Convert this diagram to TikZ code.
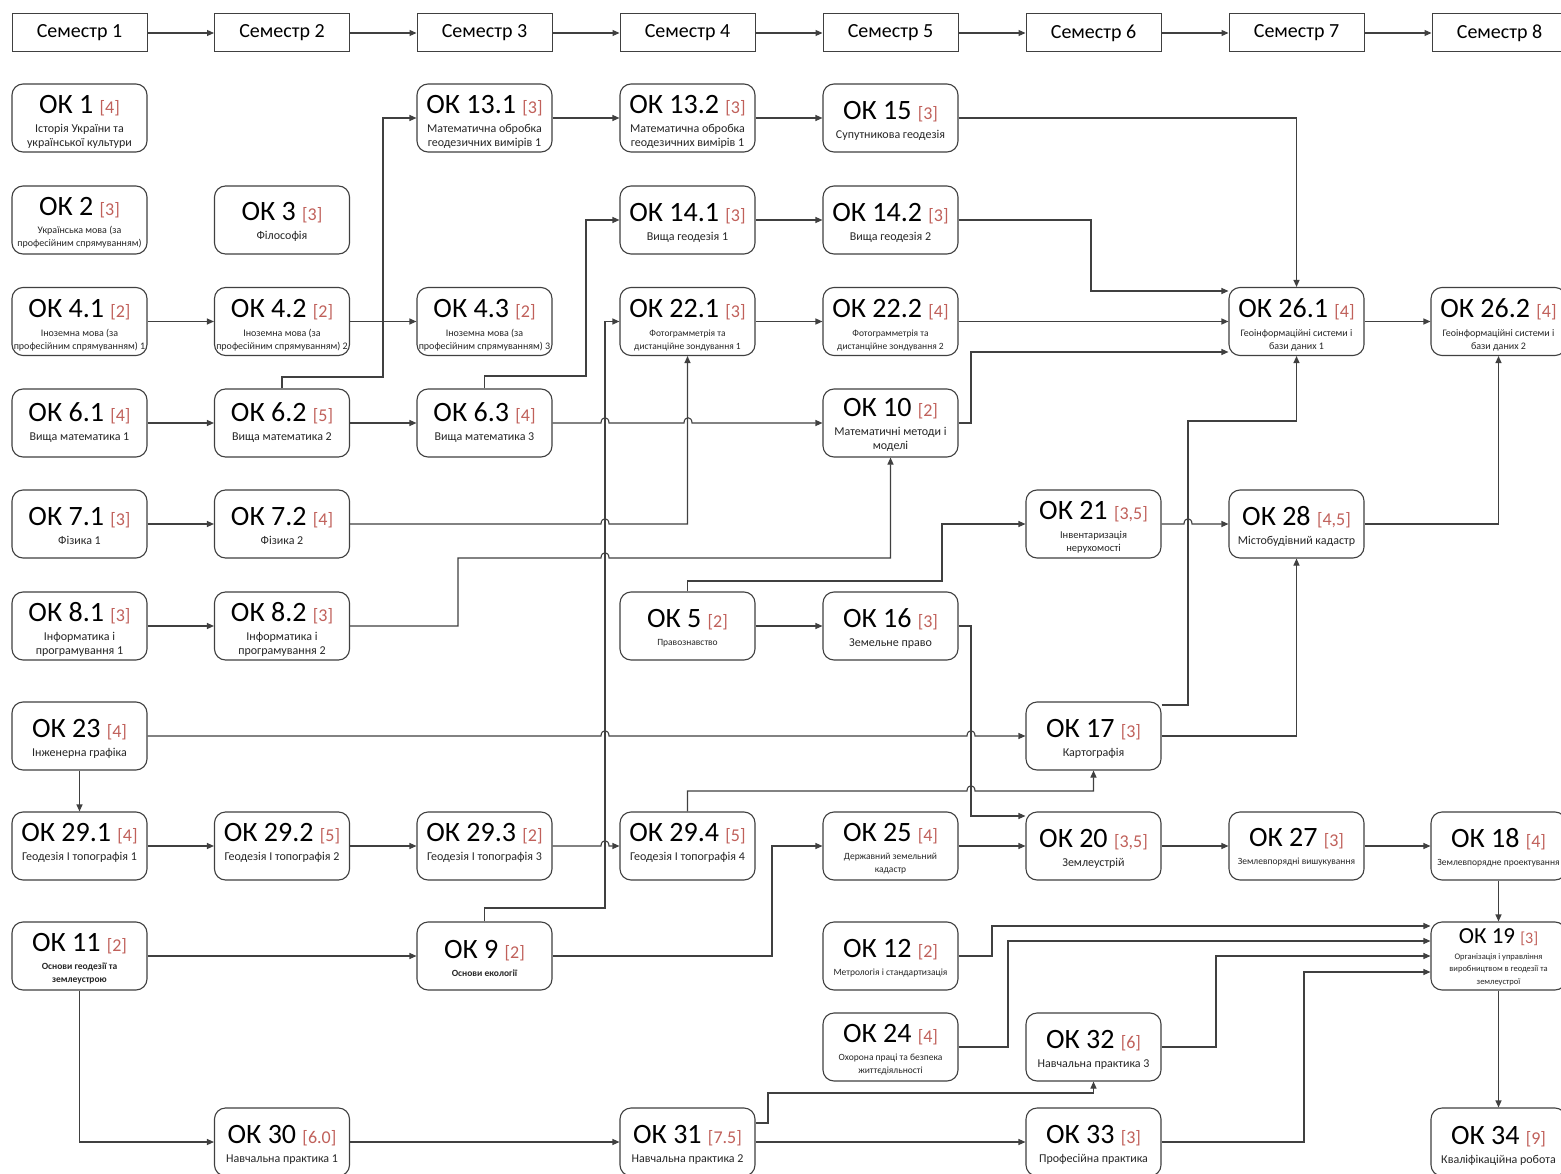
\documentclass[tikz,border=0pt]{standalone}
\usepackage{fontspec}
\setmainfont{Carlito}
\usetikzlibrary{arrows.meta}
\definecolor{cred}{RGB}{192,96,90}
\definecolor{lin}{RGB}{64,64,64}
\newcommand\crfont{\color{cred}\fontsize{18}{20}\selectfont}
\tikzset{
  box/.style={draw=black!75, line width=1.1pt, rounded corners=11pt, minimum width=135pt, minimum height=68pt, fill=white, inner sep=0pt},
  sem/.style={draw=black!75, line width=1pt, minimum width=135pt, minimum height=38pt, inner sep=0pt, font=\fontsize{20}{22}\selectfont},
  ttl/.style={anchor=base, inner sep=0pt, font=\fontsize{28}{30}\selectfont},
  sub/.style={anchor=north, inner sep=0pt, align=center, text=black!85, font=\fontsize{12}{14}\selectfont},
  small/.style={font=\fontsize{9.5}{13}\selectfont},
  smallx/.style={font=\fontsize{10}{13}\selectfont},
  smallm/.style={font=\fontsize{10.5}{13.5}\selectfont},
  smallb/.style={font=\bfseries\fontsize{9.5}{13}\selectfont},
  arr/.style={draw=lin, line width=1.1pt, -{Triangle[length=7pt,width=6pt]}},
  hop/.style 2 args={insert path={-- (#1-4,#2) .. controls (#1-4,#2-7) and (#1+4,#2-7) .. (#1+4,#2)}}
}
\newcommand\course[8][]{%
  \node[box] (#2) at (#3,#4) {};
  \node[ttl] (#2t) at ([yshift={-(#7+9)*1pt}]#2.north) {ОК #5 {\crfont[#6]}};
  \node[sub,#1] (#2s) at ([yshift={-(#7+18)*1pt}]#2.north) {\strut #8};
}
\begin{document}
\begin{tikzpicture}[x=1pt,y=-1pt]
\path[fill=white,use as bounding box] (0,0) rectangle (1561,1174);
% semesters
\node[sem] (s1) at (79.5,33) {Семестр 1};
\node[sem] (s2) at (282,33) {Семестр 2};
\node[sem] (s3) at (484.5,33) {Семестр 3};
\node[sem] (s4) at (687.5,33) {Семестр 4};
\node[sem] (s5) at (890.5,33) {Семестр 5};
\node[sem] (s6) at (1093.5,33) {Семестр 6};
\node[sem] (s7) at (1296.5,33) {Семестр 7};
\node[sem] (s8) at (1499.5,33) {Семестр 8};
\foreach \i/\j in {1/2,2/3,3/4,4/5,5/6,6/7,7/8} \draw[arr] (s\i.east) -- (s\j.west);
% column 1
\course{o1}{79.5}{118}{1}{4}{21}{Історія України та\\української культури}
\course[smallx]{o2}{79.5}{220}{2}{3}{21}{Українська мова (за\\професійним спрямуванням)}
\course[smallx]{o41}{79.5}{321.5}{4.1}{2}{22}{Іноземна мова (за\\професійним спрямуванням) 1}
\course{o61}{79.5}{423}{6.1}{4}{24}{Вища математика 1}
\course{o71}{79.5}{524}{7.1}{3}{27}{Фізика 1}
\course{o81}{79.5}{626}{8.1}{3}{21}{Інформатика і\\програмування 1}
\course{o23}{79.5}{736}{23}{4}{27}{Інженерна графіка}
\course{o291}{79.5}{846}{29.1}{4}{21}{Геодезія І топографія 1}
\course[smallb]{o11}{79.5}{956}{11}{2}{21}{Основи геодезії та\\землеустрою}
% column 2
\course{o3}{282}{220}{3}{3}{26}{Філософія}
\course[smallx]{o42}{282}{321.5}{4.2}{2}{22}{Іноземна мова (за\\професійним спрямуванням) 2}
\course{o62}{282}{423}{6.2}{5}{24}{Вища математика 2}
\course{o72}{282}{524}{7.2}{4}{27}{Фізика 2}
\course{o82}{282}{626}{8.2}{3}{21}{Інформатика і\\програмування 2}
\course{o292}{282}{846}{29.2}{5}{21}{Геодезія І топографія 2}
\course{o30}{282}{1142}{30}{6.0}{27}{Навчальна практика 1}
% column 3
\course{o131}{484.5}{118}{13.1}{3}{21}{Математична обробка\\геодезичних вимірів 1}
\course[smallx]{o43}{484.5}{321.5}{4.3}{2}{22}{Іноземна мова (за\\професійним спрямуванням) 3}
\course{o63}{484.5}{423}{6.3}{4}{24}{Вища математика 3}
\course{o293}{484.5}{846}{29.3}{2}{21}{Геодезія І топографія 3}
\course[smallb]{o9}{484.5}{956}{9}{2}{28}{Основи екології}
% column 4
\course{o132}{687.5}{118}{13.2}{3}{21}{Математична обробка\\геодезичних вимірів 1}
\course{o141}{687.5}{220}{14.1}{3}{27}{Вища геодезія 1}
\course[small]{o221}{687.5}{321.5}{22.1}{3}{22}{Фотограмметрія та\\дистанційне зондування 1}
\course[small]{o5}{687.5}{626}{5}{2}{27}{Правознавство}
\course{o294}{687.5}{846}{29.4}{5}{21}{Геодезія І топографія 4}
\course{o31}{687.5}{1142}{31}{7.5}{27}{Навчальна практика 2}
% column 5
\course{o15}{890.5}{118}{15}{3}{27}{Супутникова геодезія}
\course{o142}{890.5}{220}{14.2}{3}{27}{Вища геодезія 2}
\course[small]{o222}{890.5}{321.5}{22.2}{4}{22}{Фотограмметрія та\\дистанційне зондування 2}
\course{o10}{890.5}{423}{10}{2}{19}{Математичні методи і\\моделі}
\course{o16}{890.5}{626}{16}{3}{27}{Земельне право}
\course[small]{o25}{890.5}{846}{25}{4}{21}{Державний земельний\\кадастр}
\course[small]{o12}{890.5}{956}{12}{2}{27}{Метрологія і стандартизація}
\course[small]{o24}{890.5}{1047}{24}{4}{21}{Охорона праці та безпека\\життєдіяльності}
% column 6
\course[smallm]{o21}{1093.5}{524}{21}{3,5}{21}{Інвентаризація\\нерухомості}
\course{o17}{1093.5}{736}{17}{3}{27}{Картографія}
\course{o20}{1093.5}{846}{20}{3,5}{27}{Землеустрій}
\course{o32}{1093.5}{1047}{32}{6}{27}{Навчальна практика 3}
\course{o33}{1093.5}{1142}{33}{3}{27}{Професійна практика}
% column 7
\course[smallx]{o261}{1296.5}{321.5}{26.1}{4}{22}{Геоінформаційні системи і\\бази даних 1}
\course{o28}{1296.5}{524}{28}{4,5}{27}{Містобудівний кадастр}
\course[small]{o27}{1296.5}{846}{27}{3}{26}{Землевпорядні вишукування}
% column 8
\course[smallx]{o262}{1498.5}{321.5}{26.2}{4}{22}{Геоінформаційні системи і\\бази даних 2}
\course[small]{o18}{1498.5}{846}{18}{4}{27}{Землевпорядне проектування}
\node[box] (o19) at (1498.5,956) {};
\node[ttl, font=\fontsize{23}{25}\selectfont] (o19t) at ([yshift=-22pt]o19.north) {ОК 19 {\color{cred}\fontsize{16}{18}\selectfont[3]}};
\node[sub, font=\fontsize{8.5}{12.5}\selectfont] (o19s) at ([yshift=-29pt]o19.north) {\strut Організація і управління\\виробництвом в геодезії та\\землеустрої};
\course{o34}{1498.5}{1142}{34}{9}{28}{Кваліфікаційна робота}
% connectors
\draw[arr] (o41.east) -- (o42.west);
\draw[arr] (o42.east) -- (o43.west);
\draw[arr] (o62.north) |- (383,377) |- (o131.west);
\draw[arr] (o131.east) -- (o132.west);
\draw[arr] (o132.east) -- (o15.west);
\draw[arr] (o15.east) -| (o261.north);
\draw[arr] (o141.east) -- (o142.west);
\draw[arr] (o63.north) |- (586,376) |- (o141.west);
\draw[arr] (o142.east) -| (1091,291) -- ([yshift=30.5pt]o261.west);
\draw[arr] (o221.east) -- (o222.west);
\draw[arr] (o222.east) -- (o261.west);
\draw[arr] (o10.east) -| (971,352) -- ([yshift=-30.5pt]o261.west);
\draw[arr] (o261.east) -- (o262.west);
\draw[arr] (o61.east) -- (o62.west);
\draw[arr] (o62.east) -- (o63.west);
\draw[arr] (o63.east) [hop={605}{423}] [hop={688}{423}] -- (o10.west);
\draw[arr] (o71.east) -- (o72.west);
\draw[arr] (o72.east) [hop={605}{524}] -| (o221.south);
\draw[arr] (o81.east) -- (o82.west);
\draw[arr] (o82.east) -| (458,558) [hop={605}{558}] -| (o10.south);
\draw[arr] (o5.north) |- (942,581) |- (o21.west);
\draw[arr] (o5.east) -- (o16.west);
\draw[arr] (o16.east) -| (971,816) -- ([yshift=30pt]o20.west);
\draw[arr] (o23.east) [hop={605}{736}] [hop={971}{736}] -- (o17.west);
\draw[arr] (o23.south) -- (o291.north);
\draw[arr] ([yshift=31pt]o17.east) -| (1188,421) -| (o261.south);
\draw[arr] (o17.east) -| (o28.south);
\draw[arr] (o21.east) [hop={1188}{524}] -- (o28.west);
\draw[arr] (o28.east) -| (o262.south);
\draw[arr] (o291.east) -- (o292.west);
\draw[arr] (o292.east) -- (o293.west);
\draw[arr] (o293.east) [hop={605}{846}] -- (o294.west);
\draw[arr] (o9.north) |- (605,908) |- (o221.west);
\draw[arr] (o294.north) |- (967,791) [hop={971}{791}] -| (o17.south);
\draw[arr] (o9.east) -| (772,846) -- (o25.west);
\draw[arr] (o25.east) -- (o20.west);
\draw[arr] (o20.east) -- (o27.west);
\draw[arr] (o27.east) -- (o18.west);
\draw[arr] (o18.south) -- (o19.north);
\draw[arr] (o19.south) -- (o34.north);
\draw[arr] (o12.east) -| (992,926) -- ([yshift=30pt]o19.west);
\draw[arr] (o24.east) -| (1008,941) -- ([yshift=15pt]o19.west);
\draw[arr] (o32.east) -| (1216,956) -- (o19.west);
\draw[arr] (o33.east) -| (1304,972) -- ([yshift=-16pt]o19.west);
\draw[arr] (o11.east) -- (o9.west);
\draw[arr] (o11.south) |- (o30.west);
\draw[arr] (o30.east) -- (o31.west);
\draw[arr] ([yshift=19pt]o31.east) -| (768,1093) -| (o32.south);
\draw[arr] (o31.east) -- (o33.west);
\end{tikzpicture}
\end{document}
